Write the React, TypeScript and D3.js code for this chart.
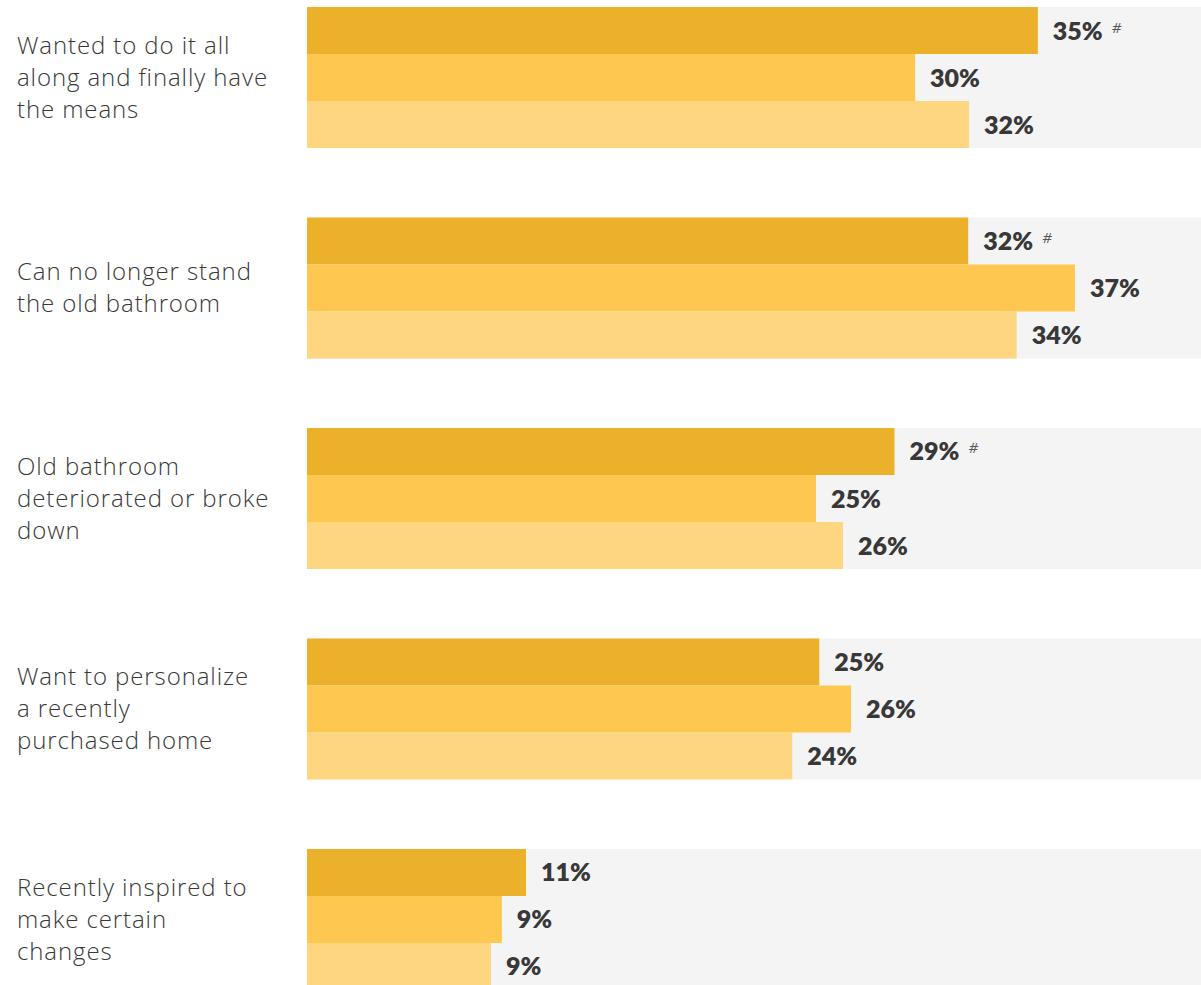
import React from "react";
import * as d3 from "d3";

const categories = [
  "Wanted to do it all along and finally have the means",
  "Can no longer stand the old bathroom",
  "Old bathroom deteriorated or broke down",
  "Want to personalize a recently purchased home",
  "Recently inspired to make certain changes",
];
const categoryLines = [
  ["Wanted to do it all", "along and finally have", "the means"],
  ["Can no longer stand", "the old bathroom"],
  ["Old bathroom", "deteriorated or broke", "down"],
  ["Want to personalize", "a recently", "purchased home"],
  ["Recently inspired to", "make certain", "changes"],
];
const seriesNames = ["Series A", "Series B", "Series C"];
const seriesA = [35.48, 32.1, 28.52, 24.87, 10.63];
const seriesB = [29.52, 37.28, 24.71, 26.41, 9.46];
const seriesC = [32.14, 34.45, 26.02, 23.56, 8.93];
const significant = [true, true, true, false, false];
const seriesColors = ["#EBB12A", "#FEC850", "#FED67F"];

const W = 1201;
const H = 985;

export default function App() {
  const values = [seriesA, seriesB, seriesC];
  const y = d3.scaleBand<string>().domain(categories).range([7, 990]).paddingInner(0.33).paddingOuter(0);
  const ys = d3.scaleBand<string>().domain(seriesNames).range([0, y.bandwidth()]);
  const x = d3.scaleLinear().domain([0, 43.4]).range([307, 1201]);
  const labelFont = "Lato, 'Open Sans', sans-serif";
  const catFont = "'Open Sans', Lato, sans-serif";

  return (
    <svg width={W} height={H} style={{ position: "absolute", left: 0, top: 0, display: "block" }}>
      <rect x={0} y={0} width={W} height={H} fill="#ffffff" />
      {categories.map((c, i) => {
        const gy = y(c)!;
        const lines = categoryLines[i];
        const lh = 32;
        const cy = gy + y.bandwidth() / 2;
        const startY = cy - ((lines.length - 1) * lh) / 2;
        return (
          <g key={c}>
            <rect x={x(0)} y={gy} width={x.range()[1] - x(0)} height={y.bandwidth()} fill="#F4F4F4" />
            {seriesNames.map((s, j) => {
              const v = values[j][i];
              const by = gy + ys(s)!;
              const bh = ys.bandwidth();
              const lx = x(v) + 15;
              const label = `${Math.round(v)}%`;
              return (
                <g key={s}>
                  <rect x={x(0)} y={by} width={x(v) - x(0)} height={bh} fill={seriesColors[j]} />
                  <text
                    x={lx}
                    y={by + bh / 2}
                    dy="0.36em"
                    fontFamily={labelFont}
                    fontWeight={800}
                    fontSize={25}
                    fill="#383838"
                  >
                    {label}
                    {j === 0 && significant[i] ? (
                      <tspan dx={9} dy={-7} fontFamily={catFont} fontSize={15} fontWeight={400} fontStyle="italic" fill="#555">
                        #
                      </tspan>
                    ) : null}
                  </text>
                </g>
              );
            })}
            <text fontFamily={catFont} fontSize={24} fontWeight={300} letterSpacing={0.9} fill="#383838">
              {lines.map((l, k) => (
                <tspan key={k} x={17} y={startY + k * lh} dy="0.35em">
                  {l}
                </tspan>
              ))}
            </text>
          </g>
        );
      })}
    </svg>
  );
}
